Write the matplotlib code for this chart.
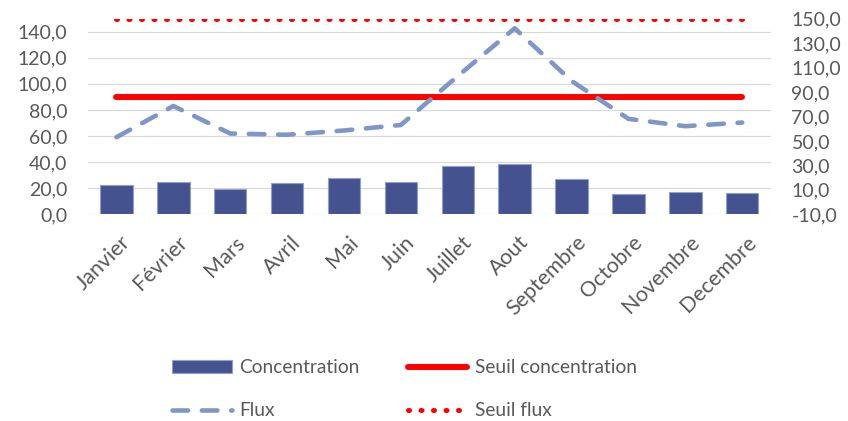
import matplotlib.pyplot as plt
import matplotlib.transforms as mtransforms
from matplotlib.ticker import FuncFormatter

plt.rcParams['font.family'] = ['Lato', 'DejaVu Sans']

months = ['Janvier', 'Février', 'Mars', 'Avril', 'Mai', 'Juin', 'Juillet',
          'Aout', 'Septembre', 'Octobre', 'Novembre', 'Decembre']
concentration = [22.4, 24.8, 19.4, 24.0, 27.8, 25.0, 36.8, 38.5, 27.0, 15.3, 17.1, 16.3]
flux = [53, 78.5, 56, 55, 58.5, 63, 103, 142, 99, 68, 62, 65]
seuil_concentration = [90] * 12
seuil_flux = [150] * 12

grey = '#595959'
x = range(len(months))

fig = plt.figure(figsize=(8.48, 4.21), dpi=100)
ax = fig.add_axes([0.1038, 0.491, 0.805, 0.465])
ax2 = ax.twinx()

bars = ax.bar(x, concentration, width=0.57, color='#44538F', edgecolor='#8FA0CC',
              linewidth=0.8, label='Concentration', zorder=2)
l_sc, = ax.plot(x, seuil_concentration, color='#FF0000', lw=4.3,
                solid_capstyle='round', label='Seuil concentration', zorder=3)

l_f, = ax2.plot(x, flux, color='#7F97C6', lw=3.3, dashes=(3.4, 3.0),
                dash_capstyle='round', solid_joinstyle='round', label='Flux', zorder=3)
l_sf, = ax2.plot(x, seuil_flux, color='#FF0000', lw=3.6, dashes=(0.2, 2.3),
                 dash_capstyle='round', label='Seuil flux', zorder=3)

ax.set_xlim(-0.5, 11.5)
ax.set_ylim(0, 150)
ax.set_yticks(range(0, 141, 20))
ax2.set_ylim(-10, 150)
ax2.set_yticks(range(-10, 151, 20))

fmt = FuncFormatter(lambda v, p: f'{v:.1f}'.replace('.', ','))
ax.yaxis.set_major_formatter(fmt)
ax2.yaxis.set_major_formatter(fmt)

ax.grid(axis='y', color='#D9D9D9', lw=0.9, zorder=0)
ax.set_axisbelow(True)
for a in (ax, ax2):
    for s in a.spines.values():
        s.set_visible(False)
    a.tick_params(length=0, labelsize=14, colors=grey, pad=15)

ax.set_xticks(list(x))
ax.set_xticklabels(months, rotation=45, ha='right', rotation_mode='anchor',
                   fontsize=15.5)
ax.tick_params(axis='x', pad=13)
shift = mtransforms.ScaledTranslation(4 / 100, 0, fig.dpi_scale_trans)
for lab in ax.get_xticklabels():
    lab.set_transform(lab.get_transform() + shift)

handles = [bars, l_f, l_sc, l_sf]
labels = ['Concentration', 'Flux', 'Seuil concentration', 'Seuil flux']
leg = fig.legend(handles, labels, ncol=2, loc='upper left',
                 bbox_to_anchor=(0.192, 0.169), frameon=False, fontsize=13.8,
                 handlelength=3.1, handletextpad=0.4, columnspacing=2.5,
                 labelspacing=1.35, borderpad=0)
for t in leg.get_texts():
    t.set_color(grey)

fig.savefig('out.png', dpi=100)
